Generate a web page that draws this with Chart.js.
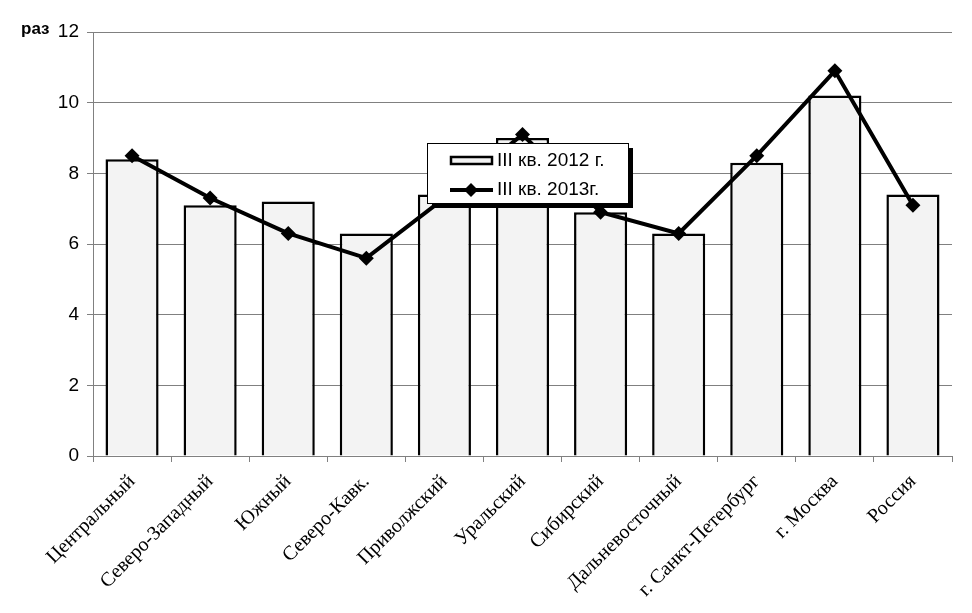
<!DOCTYPE html>
<html>
<head>
<meta charset="utf-8">
<script src="https://cdn.jsdelivr.net/npm/chart.js@4/dist/chart.umd.min.js"></script>
<style>
  html, body { margin: 0; padding: 0; background: #fff; }
  #wrap { position: relative; width: 972px; height: 613px; }
</style>
</head>
<body>
<div id="wrap"><canvas id="chart" width="972" height="613"></canvas></div>
<script>
// ── Data ───────────────────────────────────────────────
const regions = ['Центральный', 'Северо-Западный', 'Южный', 'Северо-Кавк.', 'Приволжский',
                 'Уральский', 'Сибирский', 'Дальневосточный', 'г. Санкт-Петербург', 'г. Москва', 'Россия'];
const q3_2012 = [8.4, 7.1, 7.2, 6.3, 7.4, 9.0, 6.9, 6.3, 8.3, 10.2, 7.4];
const q3_2013 = [8.5, 7.3, 6.3, 5.6, 7.3, 9.1, 6.9, 6.3, 8.5, 10.9, 7.1];
const yTicks  = [0, 2, 4, 6, 8, 10, 12];

const SANS  = '"Liberation Sans", Arial, sans-serif';
const SERIF = '"Liberation Serif", "Times New Roman", serif';

// ── Legend inside the plot, with a drop shadow ─────────
const boxLegend = {
    id: 'boxLegend',
    afterDraw(chart) {
        const c = chart.ctx;
        const x = 427, y = 143, w = 201, h = 60;
        c.save();
        c.fillStyle = '#000';
        c.fillRect(x + 5, y + 5, w, h);
        c.fillStyle = '#fff';
        c.fillRect(x, y, w, h);
        c.strokeStyle = '#000';
        c.lineWidth = 1;
        c.strokeRect(x + 0.5, y + 0.5, w, h);

        // bar sample
        c.fillStyle = '#f2f2f2';
        c.fillRect(451, 157, 41, 7);
        c.lineWidth = 2.5;
        c.strokeRect(451, 157, 41, 7);

        // line sample
        c.beginPath();
        c.moveTo(450, 190); c.lineTo(493, 190);
        c.lineWidth = 4;
        c.stroke();
        c.beginPath();
        c.moveTo(471, 183); c.lineTo(478, 190); c.lineTo(471, 197); c.lineTo(464, 190);
        c.closePath();
        c.fillStyle = '#000';
        c.fill();

        c.font = '19px ' + SANS;
        c.textBaseline = 'middle';
        c.fillText(chart.data.datasets[1].label, 497, 161);
        c.fillText(chart.data.datasets[0].label, 497, 190);

        // unit label
        c.font = 'bold 17px ' + SANS;
        c.fillText('раз', 21, 29);
        c.restore();
    }
};

new Chart(document.getElementById('chart'), {
    data: {
        labels: regions,
        datasets: [
            {
                type: 'line',
                label: 'III кв. 2013г.',
                data: q3_2013,
                borderColor: '#000',
                backgroundColor: '#000',
                borderWidth: 4,
                pointStyle: 'rectRot',
                pointRadius: 7.5,
                pointBorderWidth: 0,
                tension: 0,
                order: 0,
            },
            {
                type: 'bar',
                label: 'III кв. 2012 г.',
                data: q3_2012,
                backgroundColor: '#f3f3f3',
                borderColor: '#000',
                borderWidth: 2.5,
                categoryPercentage: 1,
                barPercentage: 0.68,
                order: 1,
            }
        ]
    },
    options: {
        responsive: false,
        animation: false,
        layout: { padding: { top: 32, right: 20, left: 0, bottom: 0 } },
        plugins: {
            legend: { display: false },
            tooltip: { enabled: false }
        },
        scales: {
            x: {
                afterFit: s => { s.height = 157; },
                grid: {
                    offset: true,
                    drawOnChartArea: false,
                    color: '#808080',
                    tickLength: 6,
                },
                border: { color: '#808080', width: 1 },
                ticks: {
                    autoSkip: false,
                    maxRotation: 45,
                    minRotation: 45,
                    padding: 8,
                    color: '#000',
                    font: { family: SERIF, size: 20 }
                }
            },
            y: {
                min: 0,
                max: 12,
                afterFit: s => { s.width = 93; },
                afterBuildTicks: s => { s.ticks = yTicks.map(v => ({ value: v })); },
                grid: {
                    color: '#808080',
                    tickLength: 6,
                },
                border: { color: '#808080', width: 1 },
                ticks: {
                    padding: 8,
                    color: '#000',
                    font: { family: SANS, size: 19 }
                }
            }
        }
    },
    plugins: [boxLegend]
});
</script>
</body>
</html>
